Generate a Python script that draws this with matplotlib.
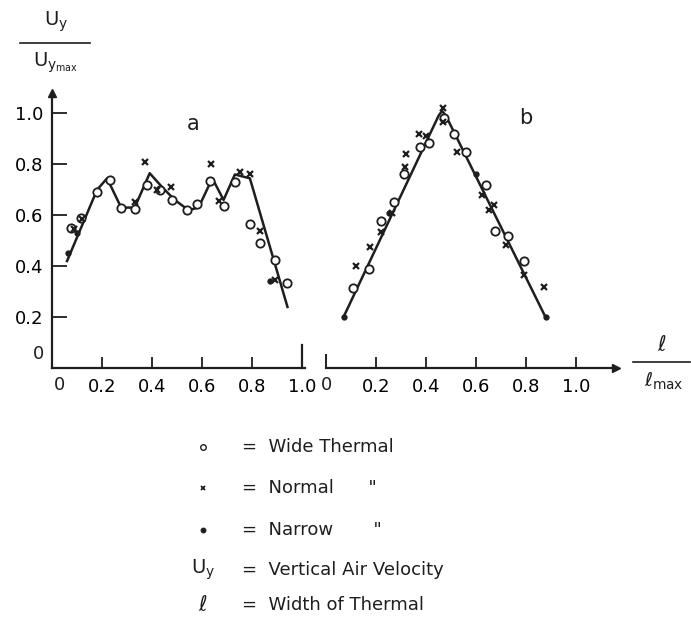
import matplotlib.pyplot as plt

# panel a (left)
a_line_x = [0.06, 0.18, 0.22, 0.276, 0.33, 0.39, 0.44, 0.49, 0.545, 0.585, 0.64, 0.685, 0.73, 0.79, 0.94]
a_line_y = [0.42, 0.70, 0.745, 0.63, 0.63, 0.765, 0.71, 0.66, 0.62, 0.63, 0.745, 0.66, 0.76, 0.745, 0.24]
a_wide_x = [0.074, 0.114, 0.18, 0.23, 0.276, 0.33, 0.38, 0.43, 0.48, 0.54, 0.58, 0.63, 0.685, 0.73, 0.79, 0.83, 0.89, 0.94]
a_wide_y = [0.55, 0.59, 0.69, 0.74, 0.63, 0.625, 0.72, 0.70, 0.66, 0.62, 0.645, 0.735, 0.635, 0.73, 0.565, 0.49, 0.425, 0.335]
a_norm_x = [0.087, 0.12, 0.33, 0.37, 0.42, 0.477, 0.636, 0.665, 0.75, 0.79, 0.83, 0.89]
a_norm_y = [0.545, 0.585, 0.65, 0.81, 0.70, 0.71, 0.80, 0.655, 0.77, 0.76, 0.54, 0.345]
a_narrow_x = [0.065, 0.10, 0.87]
a_narrow_y = [0.45, 0.53, 0.34]

# panel b (right)
b_line_x = [0.07, 0.45, 0.464, 0.48, 0.878]
b_line_y = [0.20, 0.99, 1.01, 0.99, 0.20]
b_wide_x = [0.106, 0.17, 0.22, 0.27, 0.31, 0.374, 0.41, 0.47, 0.513, 0.56, 0.64, 0.675, 0.727, 0.79]
b_wide_y = [0.316, 0.39, 0.576, 0.65, 0.76, 0.867, 0.884, 0.98, 0.918, 0.85, 0.72, 0.54, 0.52, 0.42]
b_norm_x = [0.12, 0.176, 0.22, 0.263, 0.317, 0.32, 0.37, 0.40, 0.468, 0.467, 0.524, 0.624, 0.65, 0.67, 0.72, 0.79, 0.87]
b_norm_y = [0.40, 0.475, 0.535, 0.61, 0.79, 0.84, 0.92, 0.91, 1.02, 0.967, 0.85, 0.68, 0.62, 0.64, 0.485, 0.366, 0.32]
b_narrow_x = [0.07, 0.25, 0.60, 0.878]
b_narrow_y = [0.20, 0.61, 0.76, 0.20]

ticks = [0.2, 0.4, 0.6, 0.8, 1.0]
tick_labels = ['0.2', '0.4', '0.6', '0.8', '1.0']

ink = '#1e1e1e'
plt.rcParams['font.family'] = ['DejaVu Sans']
plt.rcParams['text.color'] = ink

fig = plt.figure(figsize=(6.91, 6.22), dpi=100)
H = 622.0
W = 691.0
bottom = (H - 368) / H
height = 275 / H
ax1 = fig.add_axes([52 / W, bottom, 253 / W, height])
ax2 = fig.add_axes([326 / W, bottom, 290 / W, height])


def draw(ax, lx, ly, wx, wy, nx, ny, dx, dy):
    ax.plot(lx, ly, color=ink, lw=1.8, zorder=2)
    ax.plot(wx, wy, 'o', ms=6, mfc='white', mec=ink, mew=1.3, zorder=3)
    ax.plot(nx, ny, 'x', ms=4.5, color=ink, mew=1.6, zorder=4)
    ax.plot(dx, dy, 'o', ms=3.5, color=ink, zorder=4)
    ax.set_ylim(0, 1.08)
    for s in ['top', 'right']:
        ax.spines[s].set_visible(False)
    ax.spines['bottom'].set_color(ink)
    ax.spines['bottom'].set_linewidth(1.6)
    ax.set_xticks(ticks)
    ax.set_xticklabels(tick_labels, fontsize=13)
    ax.tick_params(axis='x', direction='in', length=8, width=1.3, color=ink, pad=7)


draw(ax1, a_line_x, a_line_y, a_wide_x, a_wide_y, a_norm_x, a_norm_y, a_narrow_x, a_narrow_y)
draw(ax2, b_line_x, b_line_y, b_wide_x, b_wide_y, b_norm_x, b_norm_y, b_narrow_x, b_narrow_y)

ax1.set_xlim(0, 1.01)
ax1.spines['left'].set_color(ink)
ax1.spines['left'].set_linewidth(1.6)
ax1.set_yticks(ticks)
ax1.set_yticklabels(tick_labels, fontsize=13)
ax1.tick_params(axis='y', direction='in', length=11, width=1.3, color=ink, pad=6)
ax1.plot([0], [1], '^', color=ink, ms=6, clip_on=False, transform=ax1.transAxes)
ax1.plot([1.0, 1.0], [0, 0.09], color=ink, lw=1.6, clip_on=False)
ax1.text(-0.03, 0.02, '0', ha='right', va='bottom', fontsize=13)
ax1.text(0.03, -0.03, '0', ha='center', va='top', fontsize=13)
ax1.text(0.565, 0.96, 'a', ha='center', va='center', fontsize=15)

ax2.set_xlim(0, 1.16)
ax2.spines['left'].set_visible(False)
ax2.set_yticks([])
ax2.plot([0, 0], [0, 0.05], color=ink, lw=1.4, clip_on=False)
ax2.plot([1.16], [0], '>', color=ink, ms=6, clip_on=False)
ax2.text(0.0, -0.03, '0', ha='center', va='top', fontsize=13)
ax2.text(0.8, 0.98, 'b', ha='center', va='center', fontsize=15)

# axis labels as fractions
fig.text(56 / W, 1 - 22 / H, r'$\mathrm{U_y}$', ha='center', va='center', fontsize=14)
fig.add_artist(plt.Line2D([20 / W, 90 / W], [1 - 43 / H, 1 - 43 / H], color=ink, lw=1.2))
fig.text(56 / W, 1 - 63 / H, r'$\mathrm{U_{y_{max}}}$', ha='center', va='center', fontsize=14)

fig.text(662 / W, 1 - 345 / H, r'$\ell$', ha='center', va='center', fontsize=15)
fig.add_artist(plt.Line2D([633 / W, 690 / W], [1 - 362 / H, 1 - 362 / H], color=ink, lw=1.2))
fig.text(664 / W, 1 - 381 / H, r'$\ell_{\mathrm{max}}$', ha='center', va='center', fontsize=14)

# key
rows = [(447, 'o', '=  Wide Thermal'), (488, 'x', '=  Normal      "'),
        (530, '.', '=  Narrow       "')]
for yy, m, txt in rows:
    if m == 'o':
        fig.add_artist(plt.Line2D([203 / W], [1 - yy / H], marker='o', ms=4, mfc='white', mec=ink, mew=1))
    elif m == 'x':
        fig.add_artist(plt.Line2D([203 / W], [1 - yy / H], marker='x', ms=3.5, color=ink, mew=1.3))
    else:
        fig.add_artist(plt.Line2D([203 / W], [1 - yy / H], marker='o', ms=3.2, color=ink))
    fig.text(242 / W, 1 - yy / H, txt, ha='left', va='center', fontsize=13)
fig.text(203 / W, 1 - 570 / H, r'$\mathrm{U_y}$', ha='center', va='center', fontsize=14)
fig.text(242 / W, 1 - 570 / H, '=  Vertical Air Velocity', ha='left', va='center', fontsize=13)
fig.text(203 / W, 1 - 605 / H, r'$\ell$', ha='center', va='center', fontsize=15)
fig.text(242 / W, 1 - 605 / H, '=  Width of Thermal', ha='left', va='center', fontsize=13)

fig.savefig('out.png', dpi=100, facecolor='white')
